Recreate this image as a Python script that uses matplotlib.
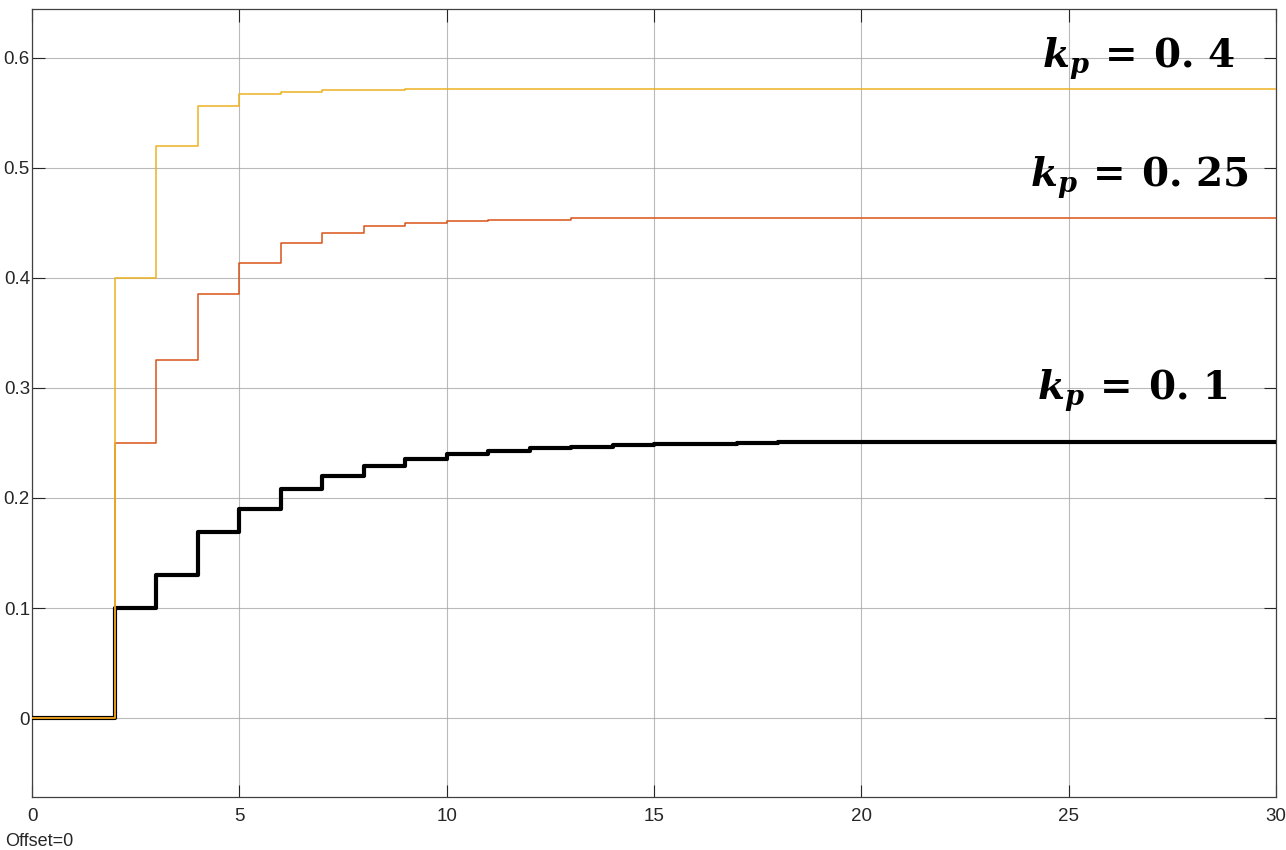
import numpy as np
import matplotlib.pyplot as plt

plt.rcParams['font.family'] = ['Liberation Sans', 'DejaVu Sans']
plt.rcParams['mathtext.fontset'] = 'dejavuserif'

# sample instants (unit sample time)
t = np.arange(0, 31)

# step responses
y_kp01 = [0, 0, 0.100, 0.130, 0.169, 0.190, 0.208, 0.220, 0.229, 0.235,
          0.240, 0.243, 0.245, 0.2468, 0.248, 0.249, 0.2495, 0.2497, 0.2505, 0.2505,
          0.2505, 0.2505, 0.2505, 0.2505, 0.2505, 0.2505, 0.2505, 0.2505, 0.2505, 0.2505,
          0.2505]
y_kp025 = [0, 0, 0.250, 0.325, 0.385, 0.414, 0.432, 0.441, 0.447, 0.450,
           0.4515, 0.453, 0.453, 0.4545, 0.4545, 0.4545, 0.4545, 0.4545, 0.4545, 0.4545,
           0.4545, 0.4545, 0.4545, 0.4545, 0.4545, 0.4545, 0.4545, 0.4545, 0.4545, 0.4545,
           0.4545]
y_kp04 = [0, 0, 0.400, 0.520, 0.556, 0.567, 0.569, 0.5705, 0.5712, 0.5714,
          0.5714, 0.5714, 0.5714, 0.5714, 0.5714, 0.5714, 0.5714, 0.5714, 0.5714, 0.5714,
          0.5714, 0.5714, 0.5714, 0.5714, 0.5714, 0.5714, 0.5714, 0.5714, 0.5714, 0.5714,
          0.5714]

labels = [r'$\boldsymbol{k}_{\boldsymbol{p}}\:\mathbf{=}\:\mathbf{0.\,4}$',
          r'$\boldsymbol{k}_{\boldsymbol{p}}\:\mathbf{=}\:\mathbf{0.\,25}$',
          r'$\boldsymbol{k}_{\boldsymbol{p}}\:\mathbf{=}\:\mathbf{0.\,1}$']
label_x = [26.69, 26.69, 26.52]
label_y = [0.591, 0.483, 0.289]

fig = plt.figure(figsize=(12.86, 8.5), dpi=100)
ax = fig.add_axes([32 / 1286, 53 / 850, 1244 / 1286, 788 / 850])

ax.step(t, y_kp01, where='post', color='black', lw=3.0, zorder=3)
ax.step(t, y_kp025, where='post', color='#D95319', lw=1.1, zorder=4)
ax.step(t, y_kp04, where='post', color='#EDB120', lw=1.1, zorder=5)

ax.set_xlim(0, 30)
ax.set_ylim(-0.0718, 0.6445)
ax.set_xticks(np.arange(0, 31, 5))
ax.set_yticks(np.arange(0, 0.61, 0.1))
ax.set_xticklabels(['0', '5', '10', '15', '20', '25', '30'])
ax.set_yticklabels(['0', '0.1', '0.2', '0.3', '0.4', '0.5', '0.6'])

ax.grid(True, color='#a8a8a8', lw=0.8, alpha=0.8)
ax.set_axisbelow(True)
ax.tick_params(direction='in', length=9, width=0.8, color='#262626',
               top=True, right=True, labelsize=13.5, labelcolor='#262626')
ax.tick_params(axis='y', pad=1.5)
ax.tick_params(axis='x', pad=8)
for s in ax.spines.values():
    s.set_color('#404040')
    s.set_linewidth(0.9)

for lx, ly, lab in zip(label_x, label_y, labels):
    ax.text(lx, ly, lab, fontsize=28, ha='center', va='baseline', zorder=6)

fig.text(5 / 1286, 4 / 850, 'Offset=0', fontsize=13, color='#262626')

fig.savefig('out.png', dpi=100)
